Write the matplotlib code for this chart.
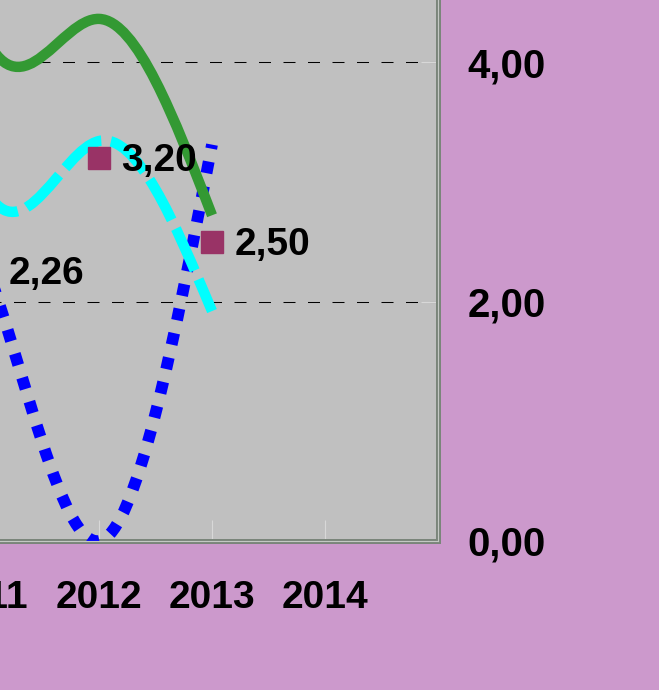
import numpy as np
import matplotlib.pyplot as plt
from matplotlib.path import Path
from matplotlib.patches import PathPatch

plt.rcParams['font.family'] = ['Liberation Sans', 'DejaVu Sans']
plt.rcParams['font.weight'] = 'bold'
plt.rcParams['lines.scale_dashes'] = False

# categories on the x axis
years = [2010, 2011, 2012, 2013, 2014]
year_labels = ['2010', '2011', '2012', '2013', '2014']

# the three smoothed line series (2010 point lies left of the visible area)
line_years = [2010, 2011, 2012, 2013]
green_vals = [8.93, 4.20, 4.36, 2.72]
cyan_vals = [7.50, 2.93, 3.34, 1.92]
blue_vals = [3.43, 2.30, 0.00, 3.31]

# marker-only series with data labels
marker_years = [2011, 2012, 2013]
marker_vals = [2.26, 3.20, 2.50]
marker_labels = ['2,26', '3,20', '2,50']

ytick_vals = [0, 2, 4]
ytick_labels = ['0,00', '2,00', '4,00']


def natural_slopes(xs, ys):
    # slopes of a natural cubic spline at the knots
    x = np.asarray(xs, float)
    y = np.asarray(ys, float)
    n = len(x)
    h = np.diff(x)
    A = np.zeros((n, n))
    r = np.zeros(n)
    A[0, 0] = A[-1, -1] = 1
    for i in range(1, n - 1):
        A[i, i - 1] = h[i - 1]
        A[i, i] = 2 * (h[i - 1] + h[i])
        A[i, i + 1] = h[i]
        r[i] = 6 * ((y[i + 1] - y[i]) / h[i] - (y[i] - y[i - 1]) / h[i - 1])
    M = np.linalg.solve(A, r)
    m = np.zeros(n)
    for i in range(n - 1):
        m[i] = (y[i + 1] - y[i]) / h[i] - h[i] * (2 * M[i] + M[i + 1]) / 6
    m[-1] = (y[-1] - y[-2]) / h[-1] + h[-1] * (M[-2] + 2 * M[-1]) / 6
    return m


def smooth_patch(ax, xs, ys, **kw):
    m = natural_slopes(xs, ys)
    verts = [(xs[0], ys[0])]
    codes = [Path.MOVETO]
    for i in range(len(xs) - 1):
        h = xs[i + 1] - xs[i]
        verts += [(xs[i] + h / 3, ys[i] + m[i] * h / 3),
                  (xs[i + 1] - h / 3, ys[i + 1] - m[i + 1] * h / 3),
                  (xs[i + 1], ys[i + 1])]
        codes += [Path.CURVE4] * 3
    patch = PathPatch(Path(verts, codes), fill=False, transform=ax.transData, **kw)
    ax.add_patch(patch)
    return patch


fig = plt.figure(figsize=(6.59, 6.90), dpi=100, facecolor='#CC99CC')
# plot area runs off the left and top edges of the picture
ax = fig.add_axes([-127 / 659, 149 / 690, 565 / 659, 598.75 / 690])
ax.set_facecolor('#C0C0C0')
ax.set_xlim(2010, 2015)
ax.set_ylim(0, 5)

ax.set_xticks(years)
ax.set_xticklabels(year_labels)
ax.set_yticks(ytick_vals)
ax.set_yticklabels(ytick_labels)
ax.yaxis.tick_right()
ax.tick_params(axis='x', direction='in', length=15, width=0.8, color='#d8d8d8',
               pad=28, labelsize=28)
ax.tick_params(axis='y', direction='in', length=12, width=0.8, color='#d8d8d8',
               pad=21, labelsize=29)
for lbl in ax.get_xticklabels() + ax.get_yticklabels():
    lbl.set_fontweight('bold')

ax.grid(axis='y', color='black', lw=0.75, linestyle=(7.2, (8.64, 9.0)))
ax.set_axisbelow(True)

for s in ['left', 'top']:
    ax.spines[s].set_visible(False)
for s in ['right', 'bottom']:
    ax.spines[s].set_color('#7a857a')
    ax.spines[s].set_linewidth(3.6)
ax.plot([1, 1], [0, 1], transform=ax.transAxes, color='#c4c8c4', lw=0.8,
        clip_on=False, zorder=6)
ax.plot([0, 1], [0, 0], transform=ax.transAxes, color='#c4c8c4', lw=0.8,
        clip_on=False, zorder=6)

smooth_patch(ax, line_years, blue_vals, edgecolor='#0000FF', lw=8.5,
             linestyle=(0, (8.5, 9.5)), capstyle='butt', zorder=3)
smooth_patch(ax, line_years, cyan_vals, edgecolor='#00FFFF', lw=7.5,
             linestyle=(0, (33, 7)), capstyle='butt', zorder=3.5)
smooth_patch(ax, line_years, green_vals, edgecolor='#339933', lw=7.5,
             joinstyle='round', capstyle='butt', zorder=4)

ax.plot(marker_years, marker_vals, ls='none', marker='s', ms=15.5,
        color='#993366', zorder=5)
for x, v, t in zip(marker_years, marker_vals, marker_labels):
    ax.annotate(t, (x, v), xytext=(16, -2.5), textcoords='offset points',
                ha='left', va='center', fontsize=28, fontweight='bold',
                zorder=7, annotation_clip=False)

fig.savefig('out.png', dpi=100, facecolor=fig.get_facecolor())
